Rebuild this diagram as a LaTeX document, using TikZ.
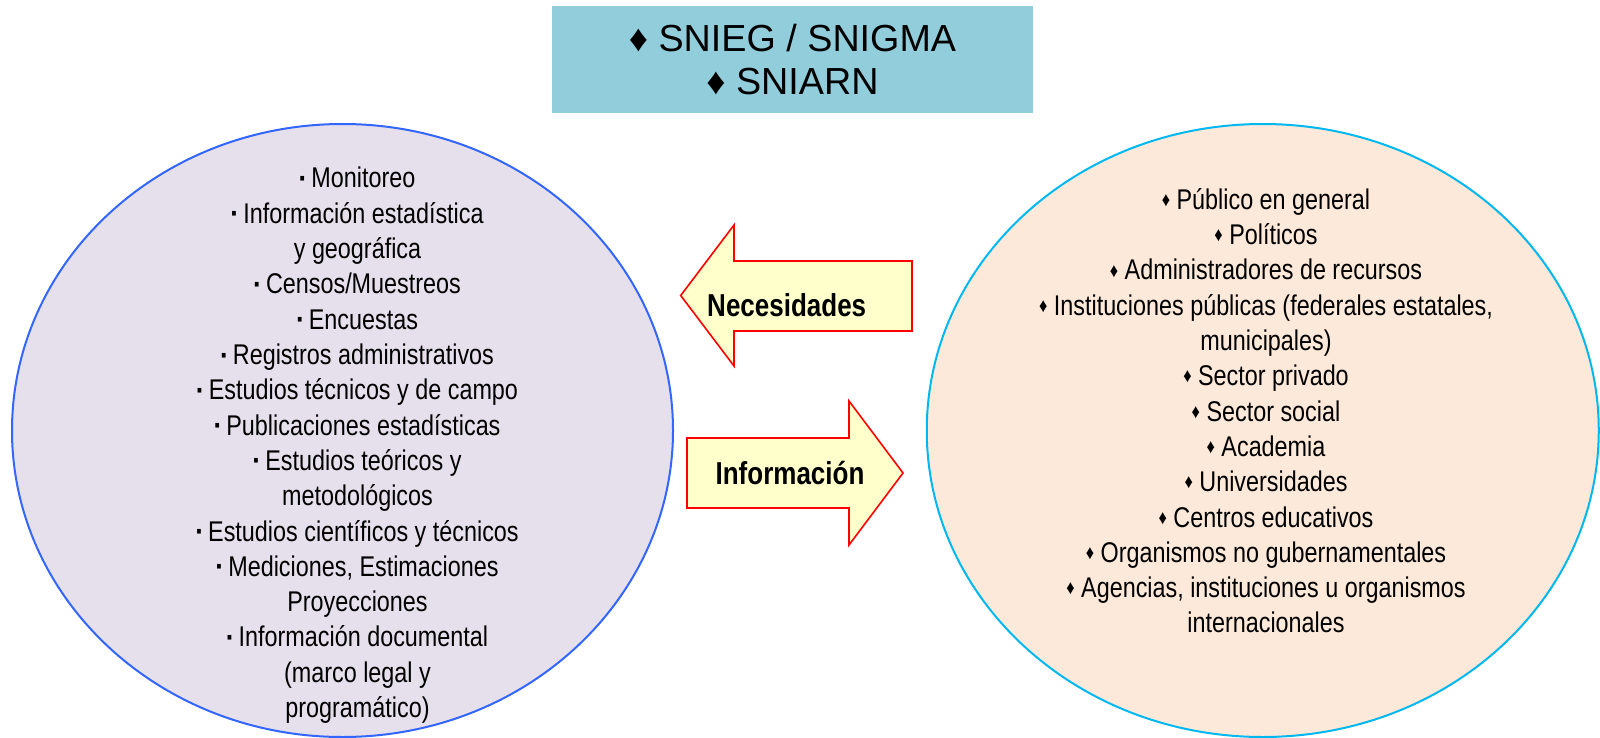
\documentclass[tikz,border=0pt]{standalone}
\usepackage{fontspec}
\setmainfont{Liberation Sans}
\newfontfamily\angosta[FakeStretch=0.82]{Liberation Sans}
\usetikzlibrary{shapes.geometric}
\definecolor{celeste}{HTML}{92CDDC}
\definecolor{lila}{HTML}{E5E0EC}
\definecolor{azulborde}{HTML}{3366FF}
\definecolor{durazno}{HTML}{FDE9D9}
\definecolor{cian}{HTML}{00B8F0}
\definecolor{crema}{HTML}{FFFFCC}
\newcommand\cuad{\raisebox{0.12em}{\scalebox{0.65}{▪}}}
\newcommand\rombo{\raisebox{0.1em}{\scalebox{0.7}{♦}}}
\tikzset{
  elipse/.style={ellipse, line width=2pt, inner sep=0pt},
  lista/.style={anchor=base, font=\angosta\fontsize{28.5}{35}\selectfont},
  flecha/.style={draw=red, fill=crema, line width=1.6pt, line join=miter},
  rotulo/.style={anchor=base, font=\angosta\bfseries\fontsize{31.7}{36}\selectfont}
}

\begin{document}
\begin{tikzpicture}[x=1pt, y=-1pt]
            \useasboundingbox (0,0) rectangle (1600,738);
            \node[fill=celeste, minimum width=481pt, minimum height=107pt, align=center,
                  font=\fontsize{37.7}{43}\selectfont] (sis) at (792.5,59.5)
                  {♦ SNIEG / SNIGMA\\♦ SNIARN};
            \node[elipse, draw=azulborde, fill=lila, minimum width=661pt, minimum height=613pt] (izq) at (342.5,430.5) {};
            \node[elipse, draw=cian, fill=durazno, minimum width=672pt, minimum height=613pt] (der) at (1262.75,430.5) {};
            \foreach \t [count=\i] in {\cuad{} Monitoreo, \cuad{} Información estadística, y geográfica,
                \cuad{} Censos/Muestreos, \cuad{} Encuestas, \cuad{} Registros administrativos,
                \cuad{} Estudios técnicos y de campo, \cuad{} Publicaciones estadísticas,
                \cuad{} Estudios teóricos y, metodológicos, \cuad{} Estudios científicos y técnicos,
                {\cuad{} Mediciones, Estimaciones}, Proyecciones, \cuad{} Información documental,
                {(marco legal y}, {programático)}}
              \node[lista] (izq-\i) at (357.5,{188+35.3*(\i-1)}) {\t};
            \foreach \t [count=\i] in {\rombo{} Público en general, \rombo{} Políticos, \rombo{} Administradores de recursos,
                {\rombo{} Instituciones públicas (federales estatales,}, {municipales)}, \rombo{} Sector privado,
                \rombo{} Sector social, \rombo{} Academia, \rombo{} Universidades, \rombo{} Centros educativos,
                \rombo{} Organismos no gubernamentales, {\rombo{} Agencias, instituciones u organismos},
                internacionales}
              \node[lista] (der-\i) at (1266,{209.3+35.3*(\i-1)}) {\t};
            \draw[flecha] (680.7,295.5) -- (734,225) -- (734,261) -- (912,261)
                -- (912,331) -- (734,331) -- (734,366) -- cycle;
            \draw[flecha] (687,438) -- (849,438) -- (849,401) -- (903,473)
                -- (849,545) -- (849,508) -- (687,508) -- cycle;
            \node[rotulo] (nec) at (786.7,316) {Necesidades};
            \node[rotulo] (inf) at (790,484) {Información};
        \end{tikzpicture}
\end{document}
